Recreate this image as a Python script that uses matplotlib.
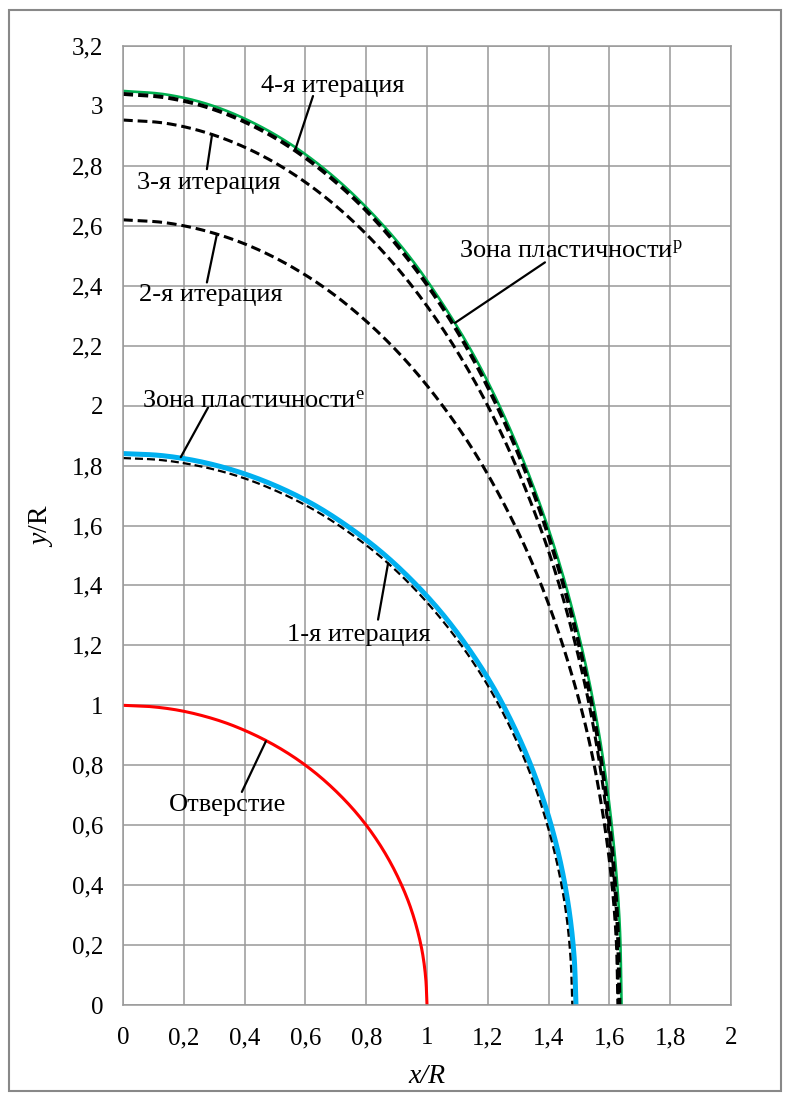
import matplotlib
matplotlib.use("Agg")
import numpy as np
import matplotlib.pyplot as plt
from matplotlib.ticker import FuncFormatter
from matplotlib.patches import Rectangle

plt.rcParams['font.family'] = ['Liberation Serif', 'DejaVu Serif']
plt.rcParams['mathtext.fontset'] = 'custom'
plt.rcParams['mathtext.rm'] = 'Liberation Serif'
plt.rcParams['mathtext.it'] = 'Liberation Serif:italic'

# Контуры (x/R, y/R)
hole_x = [0, 0.087, 0.174, 0.259, 0.342, 0.423, 0.5, 0.574, 0.643, 0.707,
          0.766, 0.819, 0.866, 0.906, 0.940, 0.966, 0.985, 0.996, 1.0]
hole_y = [1.0, 0.996, 0.985, 0.966, 0.940, 0.906, 0.866, 0.819, 0.766, 0.707,
          0.643, 0.574, 0.5, 0.423, 0.342, 0.259, 0.174, 0.087, 0]

zone_e_x = [0, 0.130, 0.259, 0.386, 0.510, 0.630, 0.745, 0.855, 0.958, 1.054,
            1.141, 1.221, 1.290, 1.350, 1.400, 1.439, 1.467, 1.484, 1.49]
zone_e_y = [1.84, 1.833, 1.812, 1.777, 1.729, 1.668, 1.593, 1.507, 1.409, 1.301,
            1.183, 1.055, 0.920, 0.778, 0.629, 0.476, 0.319, 0.160, 0]

it1_x = [0, 0.129, 0.257, 0.383, 0.505, 0.625, 0.739, 0.848, 0.950, 1.045,
         1.132, 1.211, 1.280, 1.340, 1.389, 1.428, 1.456, 1.472, 1.478]
it1_y = [1.825, 1.818, 1.797, 1.763, 1.715, 1.654, 1.580, 1.495, 1.398, 1.290,
         1.173, 1.047, 0.913, 0.771, 0.624, 0.472, 0.317, 0.159, 0]

it2_x = [0, 0.142, 0.283, 0.421, 0.557, 0.688, 0.814, 0.934, 1.046, 1.151,
         1.247, 1.334, 1.410, 1.475, 1.530, 1.572, 1.603, 1.622, 1.628]
it2_y = [2.62, 2.610, 2.580, 2.531, 2.462, 2.375, 2.269, 2.146, 2.007, 1.853,
         1.684, 1.503, 1.310, 1.107, 0.896, 0.678, 0.455, 0.228, 0]

it3_x = [0, 0.142, 0.283, 0.422, 0.557, 0.689, 0.815, 0.935, 1.048, 1.153,
         1.249, 1.335, 1.412, 1.477, 1.532, 1.574, 1.605, 1.624, 1.63]
it3_y = [2.953, 2.942, 2.908, 2.852, 2.775, 2.676, 2.557, 2.419, 2.262, 2.088,
         1.898, 1.694, 1.477, 1.248, 1.010, 0.764, 0.513, 0.258, 0]

it4_x = [0, 0.142, 0.283, 0.423, 0.558, 0.690, 0.817, 0.937, 1.050, 1.155,
         1.251, 1.338, 1.414, 1.480, 1.535, 1.577, 1.608, 1.627, 1.633]
it4_y = [3.04, 3.028, 2.994, 2.936, 2.857, 2.755, 2.633, 2.490, 2.329, 2.150,
         1.954, 1.744, 1.520, 1.285, 1.040, 0.787, 0.528, 0.265, 0]

zone_p_x = [0, 0.143, 0.285, 0.424, 0.561, 0.693, 0.820, 0.941, 1.054, 1.160,
            1.256, 1.343, 1.420, 1.486, 1.541, 1.584, 1.615, 1.634, 1.64]
zone_p_y = [3.05, 3.038, 3.004, 2.946, 2.866, 2.764, 2.641, 2.499, 2.336, 2.157,
            1.961, 1.749, 1.525, 1.289, 1.043, 0.789, 0.529, 0.266, 0]

x_ticks = [0, 0.2, 0.4, 0.6, 0.8, 1.0, 1.2, 1.4, 1.6, 1.8, 2.0]
y_ticks = [0, 0.2, 0.4, 0.6, 0.8, 1.0, 1.2, 1.4, 1.6, 1.8, 2.0, 2.2, 2.4, 2.6, 2.8, 3.0, 3.2]


def smooth(xs, ys, n=12):
    # сглаженная линия через точки (Catmull-Rom), как в Excel
    p = np.column_stack([xs, ys]).astype(float)
    p = np.vstack([2 * p[0] - p[1], p, 2 * p[-1] - p[-2]])
    t = np.linspace(0, 1, n, endpoint=False)[:, None]
    out = []
    for i in range(1, len(p) - 2):
        p0, p1, p2, p3 = p[i - 1], p[i], p[i + 1], p[i + 2]
        out.append(0.5 * (2 * p1 + (-p0 + p2) * t
                          + (2 * p0 - 5 * p1 + 4 * p2 - p3) * t ** 2
                          + (-p0 + 3 * p1 - 3 * p2 + p3) * t ** 3))
    out.append(p[-2][None, :])
    out = np.vstack(out)
    return out[:, 0], out[:, 1]


fig = plt.figure(figsize=(7.9, 11), dpi=100)
ax = fig.add_axes([123 / 790, 95 / 1100, 608 / 790, 959 / 1100])

grid_c = '#999999'
ax.plot(*smooth(zone_e_x, zone_e_y), color='#00B0F0', lw=3.6, solid_capstyle='butt')
ax.plot(*smooth(zone_p_x, zone_p_y), color='#00B050', lw=1.9)
ax.plot(*smooth(it1_x, it1_y), color='black', lw=1.6, dashes=(3.6, 1.8))
ax.plot(*smooth(it2_x, it2_y), color='black', lw=2.2, dashes=(3.2, 1.6))
ax.plot(*smooth(it3_x, it3_y), color='black', lw=2.2, dashes=(3.2, 1.6))
ax.plot(*smooth(it4_x, it4_y), color='black', lw=2.8, dashes=(2.6, 1.3))
ax.plot(*smooth(hole_x, hole_y), color='#FF0000', lw=2.2)

ax.set_xlim(0, 2)
ax.set_ylim(0, 3.2)
ax.set_xticks(x_ticks)
ax.set_yticks(y_ticks)
fmt = FuncFormatter(lambda v, p: f'{v:g}'.replace('.', ','))
ax.xaxis.set_major_formatter(fmt)
ax.yaxis.set_major_formatter(fmt)
ax.tick_params(length=0, labelsize=18)
ax.tick_params(axis='y', pad=14)
ax.tick_params(axis='x', pad=16)
ax.grid(True, color=grid_c, lw=1.1)
ax.set_axisbelow(True)
for s in ax.spines.values():
    s.set_color(grid_c)
    s.set_linewidth(1.1)

ax.set_xlabel('x/R', fontsize=20, fontstyle='italic')
ax.set_ylabel(r'$\mathit{y}$/R', fontsize=20)
ax.xaxis.set_label_coords(0.5, -0.062)
ax.yaxis.set_label_coords(-0.112, 0.5)

# подписи с выносками
lab = dict(fontsize=19, ha='center', va='center')
line = dict(arrowstyle='-', color='black', lw=1.6, shrinkA=0, shrinkB=0)
notes = [
    ('4-я итерация', (0.691, 3.066), (0.625, 3.033), (0.566, 2.852)),
    ('3-я итерация', (0.283, 2.742), (0.276, 2.789), (0.293, 2.905)),
    ('2-я итерация', (0.289, 2.368), (0.276, 2.411), (0.309, 2.572)),
    (r'Зона пластичности$^\mathrm{p}$', (1.474, 2.513), (1.388, 2.478), (1.092, 2.276)),
    (r'Зона пластичности$^\mathrm{e}$', (0.429, 2.014), (0.28, 1.994), (0.19, 1.828)),
    ('1-я итерация', (0.776, 1.236), (0.839, 1.286), (0.872, 1.474)),
    ('Отверстие', (0.345, 0.668), (0.391, 0.711), (0.47, 0.88)),
]
for txt, tpos, p0, p1 in notes:
    ax.text(tpos[0], tpos[1], txt, **lab)
    ax.annotate('', xy=p1, xytext=p0, arrowprops=line)

# рамка вокруг всей диаграммы
fig.patches.append(Rectangle((9 / 790, 9 / 1100), 772 / 790, 1081 / 1100,
                             transform=fig.transFigure, fill=False,
                             edgecolor='#888888', lw=1.5))

fig.savefig('out.png', dpi=100)
